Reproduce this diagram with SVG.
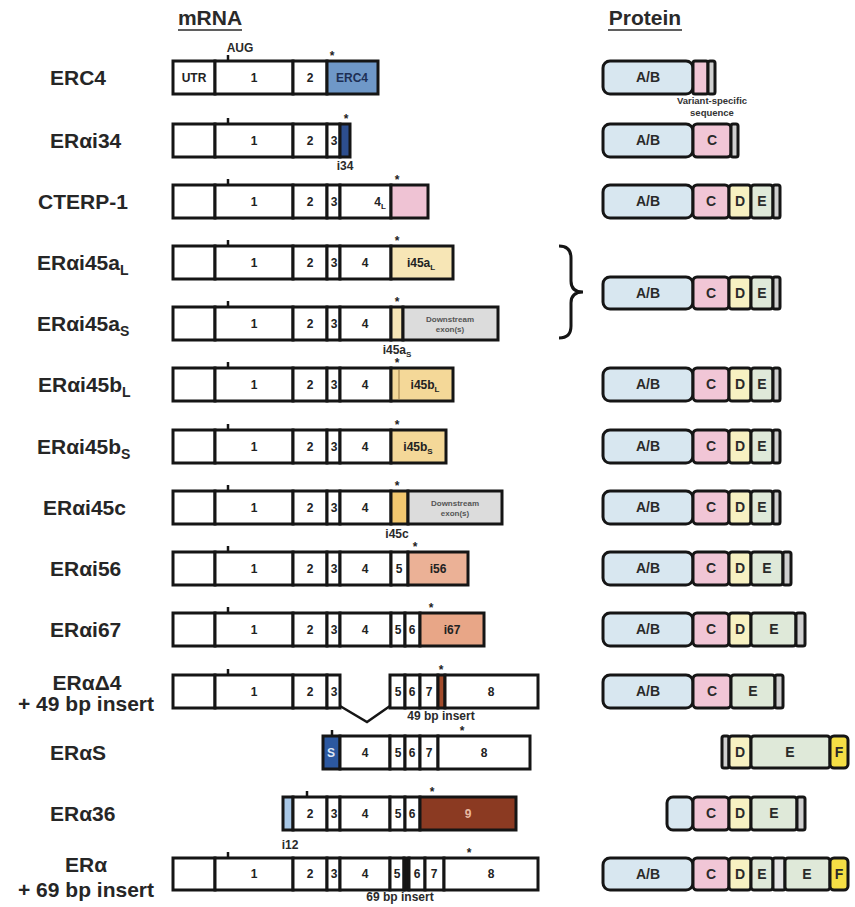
<svg xmlns="http://www.w3.org/2000/svg" width="855" height="907" viewBox="0 0 855 907">
<style>
.s{stroke:#151515;stroke-width:3;fill:#fff}
.d{stroke:#151515;stroke-width:3}
.n{font-family:"Liberation Sans",Arial,sans-serif;font-weight:bold;font-size:12px;text-anchor:middle;fill:#222}
.p{font-family:"Liberation Sans",Arial,sans-serif;font-weight:bold;font-size:14px;text-anchor:middle;fill:#2a2a2a}
.l{font-family:"Liberation Sans",Arial,sans-serif;font-weight:bold;font-size:21px;fill:#262626}
.lm{font-family:"Liberation Sans",Arial,sans-serif;font-weight:bold;font-size:21px;fill:#262626;text-anchor:middle}
.st{font-family:"Liberation Sans",Arial,sans-serif;font-weight:bold;font-size:12px;text-anchor:middle;fill:#222}
.sm{font-family:"Liberation Sans",Arial,sans-serif;font-weight:bold;font-size:12px;text-anchor:middle;fill:#2a2a2a}
.ds{font-family:"Liberation Sans",Arial,sans-serif;font-weight:bold;font-size:8px;text-anchor:middle;fill:#555}
.h{font-family:"Liberation Sans",Arial,sans-serif;font-weight:bold;font-size:21px;text-anchor:middle;fill:#2a2a2a}
.t{stroke:#151515;stroke-width:2.5}
.ab{fill:#d8e7f0}.c{fill:#f1c6d6}.dd{fill:#f7f1c2}.e{fill:#dfe9d9}.f{fill:#f5df45}.g{fill:#cfcfcf}
</style>
<rect width="855" height="907" fill="#fff"/>
<g id="headers">
<text class="h" x="210" y="25">mRNA</text><line x1="178" y1="30" x2="242" y2="30" stroke="#2a2a2a" stroke-width="1.5"/>
<text class="h" x="645" y="25">Protein</text><line x1="608" y1="30" x2="682" y2="30" stroke="#2a2a2a" stroke-width="1.5"/>
<text class="sm" x="240" y="52">AUG</text>
</g>
<g id="labels">
<text class="l" x="50" y="85">ERC4</text>
<text class="l" x="50" y="148">ERαi34</text>
<text class="l" x="38" y="209">CTERP-1</text>
<text class="l" x="37" y="270">ERαi45a<tspan font-size="14" dy="5">L</tspan></text>
<text class="l" x="37" y="331">ERαi45a<tspan font-size="14" dy="5">S</tspan></text>
<text class="l" x="38" y="392">ERαi45b<tspan font-size="14" dy="5">L</tspan></text>
<text class="l" x="37" y="454">ERαi45b<tspan font-size="14" dy="5">S</tspan></text>
<text class="l" x="43" y="515">ERαi45c</text>
<text class="l" x="50" y="576">ERαi56</text>
<text class="l" x="50" y="637">ERαi67</text>
<text class="lm" x="87" y="690">ERαΔ4</text>
<text class="lm" x="86" y="711">+ 49 bp insert</text>
<text class="l" x="50" y="760">ERαS</text>
<text class="l" x="50" y="821">ERα36</text>
<text class="lm" x="86" y="872">ERα</text>
<text class="lm" x="86" y="897">+ 69 bp insert</text>
</g>
<g id="connectors" fill="none" stroke="#151515" stroke-width="2.5">
<path d="M340,706 L367,722 L390,706"/>
<path d="M559,246 Q571,246 571,258 L571,281 Q571,292 583,292 Q571,292 571,303 L571,326 Q571,338 559,338" stroke-width="3"/>
</g>
<g id="mrna-ERC4" transform="translate(0,61)">
<line class="t" x1="228" y1="-6" x2="228" y2="0"/>
<rect class="s" x="173" y="0" width="42" height="33"/><rect class="s" x="215" y="0" width="78" height="33"/><rect class="s" x="293" y="0" width="34" height="33"/><rect class="s" x="327" y="0" width="51" height="33" style="fill:#6f98c8"/>
<text class="n" x="194" y="21">UTR</text><text class="n" x="254" y="21">1</text><text class="n" x="310" y="21">2</text><text class="n" x="352" y="21" style="fill:#1d2f55">ERC4</text>
<text class="st" x="332" y="-1">*</text>
</g>
<g id="mrna-ERai34" transform="translate(0,124)">
<line class="t" x1="228" y1="-6" x2="228" y2="0"/>
<rect class="s" x="173" y="0" width="42" height="33"/><rect class="s" x="215" y="0" width="78" height="33"/><rect class="s" x="293" y="0" width="34" height="33"/><rect class="s" x="327" y="0" width="13" height="33"/><rect class="s" x="340" y="0" width="10" height="33" style="fill:#2d4e8e"/>
<text class="n" x="254" y="21">1</text><text class="n" x="310" y="21">2</text><text class="n" x="334" y="21">3</text>
<text class="st" x="346" y="-1">*</text><text class="sm" x="345" y="46">i34</text>
</g>
<g id="mrna-CTERP1" transform="translate(0,185)">
<line class="t" x1="228" y1="-6" x2="228" y2="0"/>
<rect class="s" x="173" y="0" width="42" height="33"/><rect class="s" x="215" y="0" width="78" height="33"/><rect class="s" x="293" y="0" width="34" height="33"/><rect class="s" x="327" y="0" width="13" height="33"/><rect class="s" x="340" y="0" width="51" height="33"/><rect class="s" x="391" y="0" width="37" height="33" style="fill:#efc3d4"/>
<text class="n" x="380" y="21">4<tspan font-size="8" dy="3">L</tspan></text><text class="n" x="254" y="21">1</text><text class="n" x="310" y="21">2</text><text class="n" x="334" y="21">3</text>
<text class="st" x="397" y="-1">*</text>
</g>
<g id="mrna-ERai45aL" transform="translate(0,246)">
<line class="t" x1="228" y1="-6" x2="228" y2="0"/>
<rect class="s" x="173" y="0" width="42" height="33"/><rect class="s" x="215" y="0" width="78" height="33"/><rect class="s" x="293" y="0" width="34" height="33"/><rect class="s" x="327" y="0" width="13" height="33"/><rect class="s" x="340" y="0" width="51" height="33"/><rect class="s" x="391" y="0" width="62" height="33" style="fill:#f7e6b6"/>
<text class="n" x="254" y="21">1</text><text class="n" x="310" y="21">2</text><text class="n" x="334" y="21">3</text><text class="n" x="365" y="21">4</text><text class="n" x="421" y="21">i45a<tspan font-size="8" dy="3">L</tspan></text>
<text class="st" x="397" y="-1">*</text>
</g>
<g id="mrna-ERai45aS" transform="translate(0,307)">
<line class="t" x1="228" y1="-6" x2="228" y2="0"/>
<rect class="s" x="173" y="0" width="42" height="33"/><rect class="s" x="215" y="0" width="78" height="33"/><rect class="s" x="293" y="0" width="34" height="33"/><rect class="s" x="327" y="0" width="13" height="33"/><rect class="s" x="340" y="0" width="51" height="33"/><rect class="s" x="391" y="0" width="12" height="33" style="fill:#f7e6b6"/><rect class="s" x="403" y="0" width="95" height="33" style="fill:#dcdcdc"/>
<text class="n" x="254" y="21">1</text><text class="n" x="310" y="21">2</text><text class="n" x="334" y="21">3</text><text class="n" x="365" y="21">4</text>
<text class="ds" x="450" y="15">Downstream</text><text class="ds" x="450" y="25">exon(s)</text>
<text class="st" x="397" y="-1">*</text><text class="sm" x="397" y="47">i45a<tspan font-size="8" dy="3">S</tspan></text>
</g>
<g id="mrna-ERai45bL" transform="translate(0,368)">
<line class="t" x1="228" y1="-6" x2="228" y2="0"/>
<rect class="s" x="173" y="0" width="42" height="33"/><rect class="s" x="215" y="0" width="78" height="33"/><rect class="s" x="293" y="0" width="34" height="33"/><rect class="s" x="327" y="0" width="13" height="33"/><rect class="s" x="340" y="0" width="51" height="33"/><rect class="s" x="391" y="0" width="62" height="33" style="fill:#f4d898"/>
<line x1="399" y1="2" x2="399" y2="31" stroke="#9b7b45" stroke-width="1"/>
<text class="n" x="254" y="21">1</text><text class="n" x="310" y="21">2</text><text class="n" x="334" y="21">3</text><text class="n" x="365" y="21">4</text><text class="n" x="425" y="21">i45b<tspan font-size="8" dy="3">L</tspan></text>
<text class="st" x="397" y="-1">*</text>
</g>
<g id="mrna-ERai45bS" transform="translate(0,430)">
<line class="t" x1="228" y1="-6" x2="228" y2="0"/>
<rect class="s" x="173" y="0" width="42" height="33"/><rect class="s" x="215" y="0" width="78" height="33"/><rect class="s" x="293" y="0" width="34" height="33"/><rect class="s" x="327" y="0" width="13" height="33"/><rect class="s" x="340" y="0" width="51" height="33"/><rect class="s" x="391" y="0" width="55" height="33" style="fill:#f4d898"/>
<text class="n" x="254" y="21">1</text><text class="n" x="310" y="21">2</text><text class="n" x="334" y="21">3</text><text class="n" x="365" y="21">4</text><text class="n" x="418" y="21">i45b<tspan font-size="8" dy="3">S</tspan></text>
<text class="st" x="397" y="-1">*</text>
</g>
<g id="mrna-ERai45c" transform="translate(0,491)">
<line class="t" x1="228" y1="-6" x2="228" y2="0"/>
<rect class="s" x="173" y="0" width="42" height="33"/><rect class="s" x="215" y="0" width="78" height="33"/><rect class="s" x="293" y="0" width="34" height="33"/><rect class="s" x="327" y="0" width="13" height="33"/><rect class="s" x="340" y="0" width="51" height="33"/><rect class="s" x="391" y="0" width="17" height="33" style="fill:#f2c76f"/><rect class="s" x="408" y="0" width="94" height="33" style="fill:#dcdcdc"/>
<text class="n" x="254" y="21">1</text><text class="n" x="310" y="21">2</text><text class="n" x="334" y="21">3</text><text class="n" x="365" y="21">4</text>
<text class="ds" x="455" y="15">Downstream</text><text class="ds" x="455" y="25">exon(s)</text>
<text class="st" x="397" y="-1">*</text><text class="sm" x="397" y="47">i45c</text>
</g>
<g id="mrna-ERai56" transform="translate(0,552)">
<line class="t" x1="228" y1="-6" x2="228" y2="0"/>
<rect class="s" x="173" y="0" width="42" height="33"/><rect class="s" x="215" y="0" width="78" height="33"/><rect class="s" x="293" y="0" width="34" height="33"/><rect class="s" x="327" y="0" width="13" height="33"/><rect class="s" x="340" y="0" width="51" height="33"/><rect class="s" x="391" y="0" width="17" height="33"/><rect class="s" x="408" y="0" width="60" height="33" style="fill:#ebb196"/>
<text class="n" x="254" y="21">1</text><text class="n" x="310" y="21">2</text><text class="n" x="334" y="21">3</text><text class="n" x="365" y="21">4</text><text class="n" x="399" y="21">5</text><text class="n" x="438" y="21">i56</text>
<text class="st" x="415" y="-1">*</text>
</g>
<g id="mrna-ERai67" transform="translate(0,613)">
<line class="t" x1="228" y1="-6" x2="228" y2="0"/>
<rect class="s" x="173" y="0" width="42" height="33"/><rect class="s" x="215" y="0" width="78" height="33"/><rect class="s" x="293" y="0" width="34" height="33"/><rect class="s" x="327" y="0" width="13" height="33"/><rect class="s" x="340" y="0" width="51" height="33"/><rect class="s" x="391" y="0" width="14" height="33"/><rect class="s" x="405" y="0" width="15" height="33"/><rect class="s" x="420" y="0" width="64" height="33" style="fill:#e8a687"/>
<text class="n" x="254" y="21">1</text><text class="n" x="310" y="21">2</text><text class="n" x="334" y="21">3</text><text class="n" x="365" y="21">4</text><text class="n" x="398" y="21">5</text><text class="n" x="412" y="21">6</text><text class="n" x="452" y="21">i67</text>
<text class="st" x="431" y="-1">*</text>
</g>
<g id="mrna-ERaD4" transform="translate(0,675)">
<line class="t" x1="228" y1="-6" x2="228" y2="0"/>
<rect class="s" x="173" y="0" width="42" height="33"/><rect class="s" x="215" y="0" width="78" height="33"/><rect class="s" x="293" y="0" width="34" height="33"/><rect class="s" x="327" y="0" width="13" height="33"/>
<rect class="s" x="390" y="0" width="15" height="33"/><rect class="s" x="405" y="0" width="15" height="33"/><rect class="s" x="420" y="0" width="18" height="33"/><rect class="s" x="438" y="0" width="7" height="33" style="fill:#a24b2b"/><rect class="s" x="445" y="0" width="93" height="33"/>
<text class="n" x="254" y="21">1</text><text class="n" x="310" y="21">2</text><text class="n" x="334" y="21">3</text><text class="n" x="398" y="21">5</text><text class="n" x="412" y="21">6</text><text class="n" x="429" y="21">7</text><text class="n" x="491" y="21">8</text>
<text class="st" x="441" y="-1">*</text><text class="sm" x="441" y="45">49 bp insert</text>
</g>
<g id="mrna-ERaS" transform="translate(0,736)">
<line class="t" x1="332" y1="-6" x2="332" y2="0"/>
<rect class="s" x="323" y="0" width="17" height="33" style="fill:#2c58a0"/><rect class="s" x="340" y="0" width="50" height="33"/><rect class="s" x="390" y="0" width="15" height="33"/><rect class="s" x="405" y="0" width="15" height="33"/><rect class="s" x="420" y="0" width="18" height="33"/><rect class="s" x="438" y="0" width="92" height="33"/>
<text class="n" x="331" y="21" style="fill:#dfe8f5">S</text><text class="n" x="365" y="21">4</text><text class="n" x="398" y="21">5</text><text class="n" x="412" y="21">6</text><text class="n" x="429" y="21">7</text><text class="n" x="484" y="21">8</text>
<text class="st" x="462" y="-1">*</text>
</g>
<g id="mrna-ERa36" transform="translate(0,797)">
<line class="t" x1="307" y1="-6" x2="307" y2="0"/>
<rect class="s" x="283" y="0" width="10" height="33" style="fill:#a8c7e6"/><rect class="s" x="293" y="0" width="34" height="33"/><rect class="s" x="327" y="0" width="13" height="33"/><rect class="s" x="340" y="0" width="50" height="33"/><rect class="s" x="390" y="0" width="15" height="33"/><rect class="s" x="405" y="0" width="15" height="33"/><rect class="s" x="420" y="0" width="96" height="33" style="fill:#8b3a22"/>
<text class="n" x="310" y="21">2</text><text class="n" x="334" y="21">3</text><text class="n" x="365" y="21">4</text><text class="n" x="398" y="21">5</text><text class="n" x="412" y="21">6</text><text class="n" x="468" y="21" style="fill:#e9b9a0">9</text>
<text class="st" x="432" y="-1">*</text><text class="sm" x="290" y="52">i12</text>
</g>
<g id="mrna-ERa69" transform="translate(0,858)">
<line class="t" x1="228" y1="-6" x2="228" y2="0"/>
<rect class="s" x="173" y="0" width="42" height="32"/><rect class="s" x="215" y="0" width="78" height="32"/><rect class="s" x="293" y="0" width="34" height="32"/><rect class="s" x="327" y="0" width="13" height="32"/><rect class="s" x="340" y="0" width="50" height="32"/><rect class="s" x="390" y="0" width="14" height="32"/><rect class="s" x="404" y="0" width="5" height="32" style="fill:#151515"/><rect class="s" x="409" y="0" width="16" height="32"/><rect class="s" x="425" y="0" width="19" height="32"/><rect class="s" x="444" y="0" width="94" height="32"/>
<text class="n" x="254" y="20">1</text><text class="n" x="310" y="20">2</text><text class="n" x="334" y="20">3</text><text class="n" x="365" y="20">4</text><text class="n" x="397" y="20">5</text><text class="n" x="417" y="20">6</text><text class="n" x="434" y="20">7</text><text class="n" x="491" y="20">8</text>
<text class="st" x="469" y="-1">*</text><text class="sm" x="400" y="43">69 bp insert</text>
</g>
<g id="prot-ERC4" transform="translate(0,61)">
<rect class="d ab" x="603" y="0" width="90" height="33" rx="7"/><rect class="d c" x="693" y="0" width="15" height="33" rx="2"/><rect class="d g" x="708" y="0" width="7" height="33" rx="2"/>
<text class="p" x="648" y="21">A/B</text>
<text class="ds" x="712" y="43" style="fill:#333;font-size:9.5px">Variant-specific</text><text class="ds" x="712" y="55" style="fill:#333;font-size:9.5px">sequence</text>
</g>
<g id="prot-ERai34" transform="translate(0,124)">
<rect class="d ab" x="603" y="0" width="90" height="33" rx="7"/><rect class="d c" x="693" y="0" width="38" height="33" rx="4"/><rect class="d g" x="731" y="0" width="7" height="33" rx="2"/>
<text class="p" x="648" y="21">A/B</text><text class="p" x="712" y="21">C</text>
</g>
<g id="prot-CTERP1" transform="translate(0,185)">
<rect class="d ab" x="603" y="0" width="90" height="33" rx="7"/><rect class="d c" x="693" y="0" width="36" height="33" rx="4"/><rect class="d dd" x="729" y="0" width="22" height="33" rx="3"/><rect class="d e" x="751" y="0" width="22" height="33" rx="3"/><rect class="d g" x="773" y="0" width="7" height="33" rx="2"/>
<text class="p" x="648" y="21">A/B</text><text class="p" x="711" y="21">C</text><text class="p" x="740" y="21">D</text><text class="p" x="762" y="21">E</text>
</g>
<g id="prot-ERai45a" transform="translate(0,277)">
<rect class="d ab" x="603" y="0" width="90" height="32" rx="7"/><rect class="d c" x="693" y="0" width="36" height="32" rx="4"/><rect class="d dd" x="729" y="0" width="22" height="32" rx="3"/><rect class="d e" x="751" y="0" width="22" height="32" rx="3"/><rect class="d g" x="773" y="0" width="7" height="32" rx="2"/>
<text class="p" x="648" y="21">A/B</text><text class="p" x="711" y="21">C</text><text class="p" x="740" y="21">D</text><text class="p" x="762" y="21">E</text>
</g>
<g id="prot-ERai45bL" transform="translate(0,368)">
<rect class="d ab" x="603" y="0" width="90" height="33" rx="7"/><rect class="d c" x="693" y="0" width="36" height="33" rx="4"/><rect class="d dd" x="729" y="0" width="22" height="33" rx="3"/><rect class="d e" x="751" y="0" width="22" height="33" rx="3"/><rect class="d g" x="773" y="0" width="7" height="33" rx="2"/>
<text class="p" x="648" y="21">A/B</text><text class="p" x="711" y="21">C</text><text class="p" x="740" y="21">D</text><text class="p" x="762" y="21">E</text>
</g>
<g id="prot-ERai45bS" transform="translate(0,430)">
<rect class="d ab" x="603" y="0" width="90" height="33" rx="7"/><rect class="d c" x="693" y="0" width="36" height="33" rx="4"/><rect class="d dd" x="729" y="0" width="22" height="33" rx="3"/><rect class="d e" x="751" y="0" width="22" height="33" rx="3"/><rect class="d g" x="773" y="0" width="7" height="33" rx="2"/>
<text class="p" x="648" y="21">A/B</text><text class="p" x="711" y="21">C</text><text class="p" x="740" y="21">D</text><text class="p" x="762" y="21">E</text>
</g>
<g id="prot-ERai45c" transform="translate(0,491)">
<rect class="d ab" x="603" y="0" width="90" height="33" rx="7"/><rect class="d c" x="693" y="0" width="36" height="33" rx="4"/><rect class="d dd" x="729" y="0" width="22" height="33" rx="3"/><rect class="d e" x="751" y="0" width="22" height="33" rx="3"/><rect class="d g" x="773" y="0" width="7" height="33" rx="2"/>
<text class="p" x="648" y="21">A/B</text><text class="p" x="711" y="21">C</text><text class="p" x="740" y="21">D</text><text class="p" x="762" y="21">E</text>
</g>
<g id="prot-ERai56" transform="translate(0,552)">
<rect class="d ab" x="603" y="0" width="90" height="33" rx="7"/><rect class="d c" x="693" y="0" width="36" height="33" rx="4"/><rect class="d dd" x="729" y="0" width="22" height="33" rx="3"/><rect class="d e" x="751" y="0" width="32" height="33" rx="3"/><rect class="d g" x="783" y="0" width="8" height="33" rx="2"/>
<text class="p" x="648" y="21">A/B</text><text class="p" x="711" y="21">C</text><text class="p" x="740" y="21">D</text><text class="p" x="767" y="21">E</text>
</g>
<g id="prot-ERai67" transform="translate(0,613)">
<rect class="d ab" x="603" y="0" width="90" height="33" rx="7"/><rect class="d c" x="693" y="0" width="36" height="33" rx="4"/><rect class="d dd" x="729" y="0" width="22" height="33" rx="3"/><rect class="d e" x="751" y="0" width="45" height="33" rx="3"/><rect class="d g" x="796" y="0" width="9" height="33" rx="2"/>
<text class="p" x="648" y="21">A/B</text><text class="p" x="711" y="21">C</text><text class="p" x="740" y="21">D</text><text class="p" x="774" y="21">E</text>
</g>
<g id="prot-ERaD4" transform="translate(0,675)">
<rect class="d ab" x="603" y="0" width="90" height="33" rx="7"/><rect class="d c" x="693" y="0" width="38" height="33" rx="4"/><rect class="d e" x="731" y="0" width="44" height="33" rx="3"/><rect class="d g" x="775" y="0" width="8" height="33" rx="2"/>
<text class="p" x="648" y="21">A/B</text><text class="p" x="712" y="21">C</text><text class="p" x="753" y="21">E</text>
</g>
<g id="prot-ERaS" transform="translate(0,736)">
<rect class="d g" x="722" y="0" width="7" height="32" rx="2"/><rect class="d dd" x="729" y="0" width="22" height="32" rx="3"/><rect class="d e" x="751" y="0" width="79" height="32" rx="3"/><rect class="d f" x="830" y="0" width="18" height="32" rx="4"/>
<text class="p" x="740" y="21">D</text><text class="p" x="790" y="21">E</text><text class="p" x="839" y="21">F</text>
</g>
<g id="prot-ERa36" transform="translate(0,797)">
<rect class="d ab" x="667" y="0" width="26" height="33" rx="6"/><rect class="d c" x="693" y="0" width="36" height="33" rx="4"/><rect class="d dd" x="729" y="0" width="22" height="33" rx="3"/><rect class="d e" x="751" y="0" width="46" height="33" rx="3"/><rect class="d g" x="797" y="0" width="8" height="33" rx="2"/>
<text class="p" x="711" y="21">C</text><text class="p" x="740" y="21">D</text><text class="p" x="774" y="21">E</text>
</g>
<g id="prot-ERa69" transform="translate(0,858)">
<rect class="d ab" x="603" y="0" width="90" height="32" rx="7"/><rect class="d c" x="693" y="0" width="36" height="32" rx="4"/><rect class="d dd" x="729" y="0" width="22" height="32" rx="3"/><rect class="d e" x="751" y="0" width="22" height="32" rx="3"/><rect class="d" x="773" y="0" width="12" height="32" rx="2" style="fill:#e4e4e4"/><rect class="d e" x="785" y="0" width="45" height="32" rx="3"/><rect class="d f" x="830" y="0" width="18" height="32" rx="4"/>
<text class="p" x="648" y="21">A/B</text><text class="p" x="711" y="21">C</text><text class="p" x="740" y="21">D</text><text class="p" x="762" y="21">E</text><text class="p" x="807" y="21">E</text><text class="p" x="839" y="21">F</text>
</g>
</svg>
